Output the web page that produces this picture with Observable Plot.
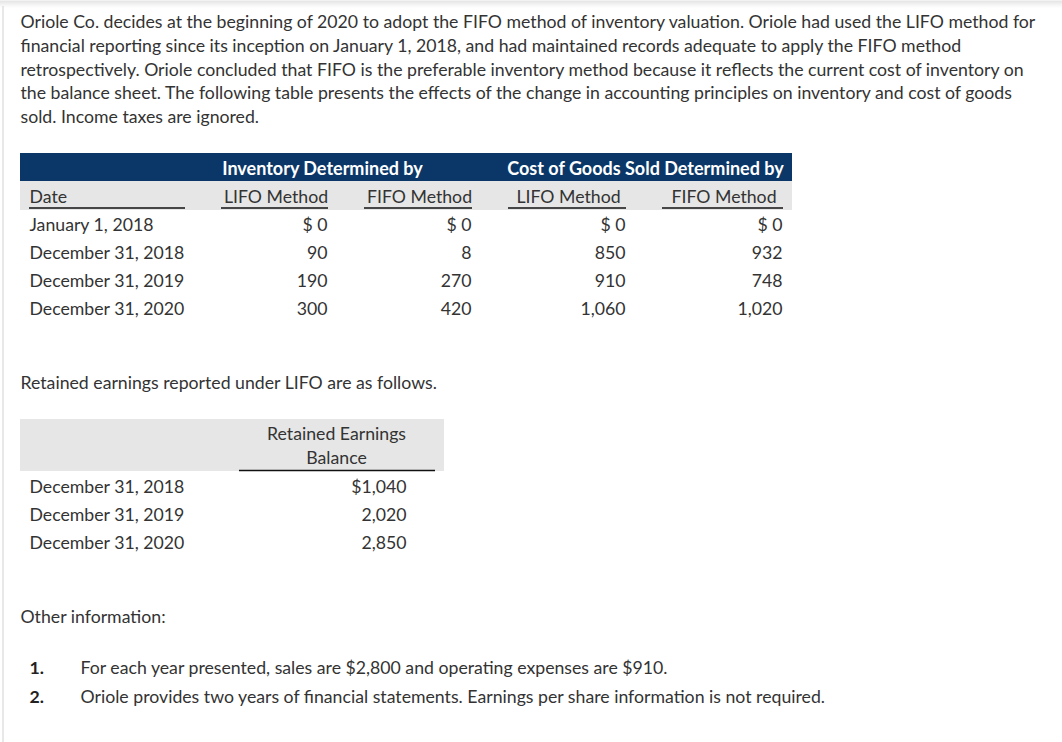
<!DOCTYPE html>
<html><head><meta charset="utf-8">
<script src="https://cdn.jsdelivr.net/npm/d3@7"></script>
<script src="https://cdn.jsdelivr.net/npm/@observablehq/plot@0.6"></script>
<style>html,body{margin:0;padding:0;background:#fff;} #chart svg{display:block}</style>
</head><body><div id="chart"></div>
<script>
// ---- content ----
const introLines = [
  "Oriole Co. decides at the beginning of 2020 to adopt the FIFO method of inventory valuation. Oriole had used the LIFO method for",
  "financial reporting since its inception on January 1, 2018, and had maintained records adequate to apply the FIFO method",
  "retrospectively. Oriole concluded that FIFO is the preferable inventory method because it reflects the current cost of inventory on",
  "the balance sheet. The following table presents the effects of the change in accounting principles on inventory and cost of goods",
  "sold. Income taxes are ignored."
];
const groupHeaders = ["Inventory Determined by", "Cost of Goods Sold Determined by"];
const columnHeaders = ["Date", "LIFO Method", "FIFO Method", "LIFO Method", "FIFO Method"];
const dates = ["January 1, 2018", "December 31, 2018", "December 31, 2019", "December 31, 2020"];
const inventoryLIFO = [0, 90, 190, 300];
const inventoryFIFO = [0, 8, 270, 420];
const cogsLIFO = [0, 850, 910, 1060];
const cogsFIFO = [0, 932, 748, 1020];
const retainedNote = "Retained earnings reported under LIFO are as follows.";
const retainedHeader = ["Retained Earnings", "Balance"];
const retainedDates = ["December 31, 2018", "December 31, 2019", "December 31, 2020"];
const retainedBalance = [1040, 2020, 2850];
const otherLabel = "Other information:";
const itemNumbers = ["1.", "2."];
const itemTexts = [
  "For each year presented, sales are $2,800 and operating expenses are $910.",
  "Oriole provides two years of financial statements. Earnings per share information is not required."
];

// ---- layout ----
const W = 1062, H = 742, FS = 17.7;
const TXT = "#333333", NAVY = "#0a3768", GREY = "#e6e6e6";
const mid = b => b - 0.32 * FS - 1.0;    // baseline -> middle-anchored y
const fmt = d3.format(",");
const money = (v, i, dollarSpace) => i === 0 ? (dollarSpace ? "$ " : "$") + fmt(v) : fmt(v);

const introData = introLines.map((t, i) => ({x: 20, y: mid(28.5 + i * 23.8), t}));

// table 1
const t1Left = 20, t1Right = 792;
const bands = [
  {x1: t1Left, x2: t1Right, y1: 153, y2: 181, fill: NAVY},
  {x1: t1Left, x2: t1Right, y1: 181, y2: 210, fill: GREY},
  {x1: 20, x2: 444, y1: 419, y2: 471, fill: GREY}
];
const colSpans = [[29, 185], [221, 328], [364, 472], [508, 626], [662, 783]];
const underlines = colSpans.map(([a, b]) => ({x1: a, x2: b, y: 207.5}))
  .concat([{x1: 239, x2: 435, y: 470}]);
const colHeaderData = columnHeaders.map((t, i) => ({
  x: i === 0 ? colSpans[0][0] : (colSpans[i][0] + colSpans[i][1]) / 2 + 1, y: mid(203), t, anchor: i === 0 ? "start" : "middle"
}));
const groupData = groupHeaders.map((t, i) => ({x: [322, 645][i], y: mid(175), t}));
const rowBase = i => 231.5 + i * 28;
const dateData = dates.map((t, i) => ({x: 29, y: mid(rowBase(i)), t}));
const valueCols = [inventoryLIFO, inventoryFIFO, cogsLIFO, cogsFIFO];
const colRight = [327, 471, 625, 782];
const valueData = valueCols.flatMap((col, c) => col.map((v, i) => ({x: colRight[c], y: mid(rowBase(i)), t: money(v, i, true)})));

// table 2
const r2Base = i => 493 + i * 28;
const noteData = [{x: 20, y: mid(389), t: retainedNote}];
const retHeadData = retainedHeader.map((t, i) => ({x: 336, y: mid(440.5 + i * 24), t}));
const retDateData = retainedDates.map((t, i) => ({x: 29, y: mid(r2Base(i)), t}));
const retValData = retainedBalance.map((v, i) => ({x: 406, y: mid(r2Base(i)), t: money(v, i, false)}));

// other info
const otherData = [{x: 20, y: mid(623), t: otherLabel}];
const numData = itemNumbers.map((t, i) => ({x: 29, y: mid(674 + i * 29), t}));
const itemData = itemTexts.map((t, i) => ({x: 80, y: mid(674 + i * 29), t}));

const txt = (data, opts = {}) => Plot.text(data, {x: "x", y: "y", text: "t", textAnchor: "start", fontSize: FS, fill: TXT, fontFamily: "Lato", ...opts});

const shadow = d3.range(0, 7).map(i => ({y: i + 0.5, o: 0.10 * (1 - i / 7)}));

const chart = Plot.plot({
  width: W, height: H, margin: 0,
  x: {domain: [0, W], range: [0, W], axis: null},
  y: {domain: [0, H], range: [0, H], axis: null},
  style: {background: "#fff", fontFamily: "Lato, sans-serif"},
  marks: [
    Plot.ruleY(shadow, {y: "y", x1: 0, x2: W, stroke: "#000", strokeOpacity: d => d.o}),
    Plot.ruleX([2.5], {x: d => d, y1: 6, y2: H, stroke: "#d9d9d9", strokeWidth: 1.2}),
    Plot.rect(bands, {x1: "x1", x2: "x2", y1: "y1", y2: "y2", fill: d => d.fill}),
    Plot.ruleY(underlines, {y: "y", x1: "x1", x2: "x2", stroke: "#111", strokeWidth: 1.3}),
    txt(introData),
    txt(groupData, {textAnchor: "middle", fill: "#fff", fontWeight: "bold", fontSize: 18, letterSpacing: "-0.2px"}),
    txt(colHeaderData.filter(d => d.anchor === "start")),
    txt(colHeaderData.filter(d => d.anchor === "middle"), {textAnchor: "middle"}),
    txt(dateData),
    txt(valueData, {textAnchor: "end"}),
    txt(noteData),
    txt(retHeadData, {textAnchor: "middle"}),
    txt(retDateData),
    txt(retValData, {textAnchor: "end"}),
    txt(otherData),
    txt(numData, {fontWeight: "bold", fill: "#222"}),
    txt(itemData)
  ]
});
document.getElementById("chart").append(chart);
</script>
</body></html>
